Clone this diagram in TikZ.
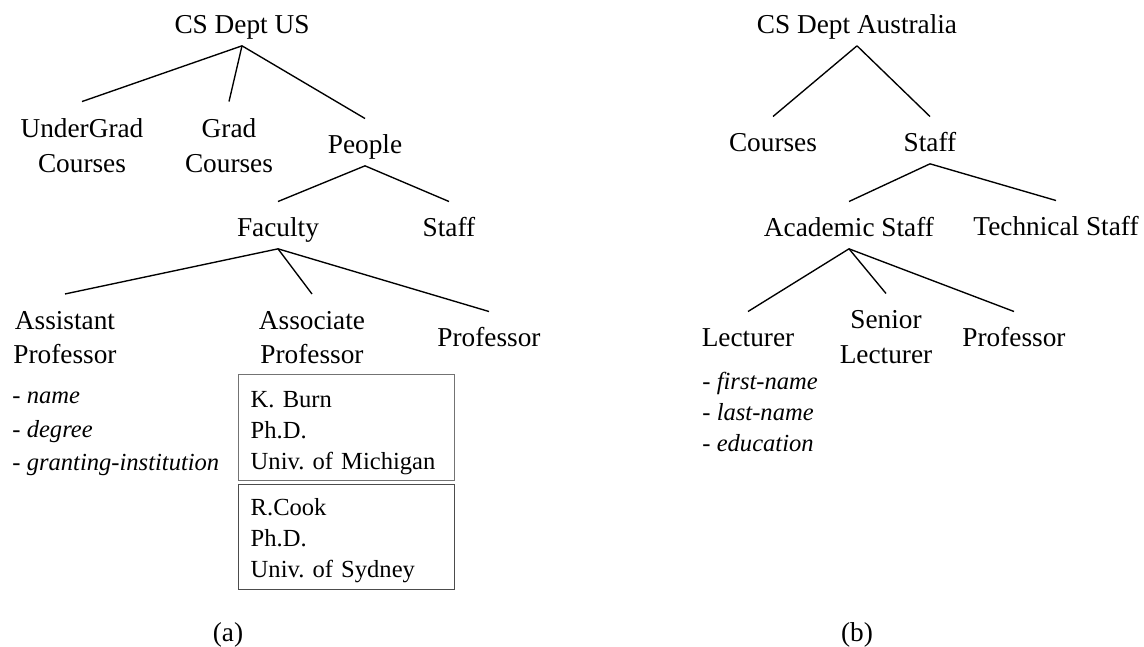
\documentclass[tikz,border=0pt]{standalone}
\usepackage{fontspec}
\setmainfont{Liberation Serif}
\begin{document}
\begin{tikzpicture}[x=0.4396pt, y=-0.4396pt]
        % Styles des noeuds
        \tikzstyle{cat} = [inner sep=0pt, text height=15.4pt, text depth=5pt, anchor=base, font=\fontsize{12}{15.2}\selectfont]
        \tikzstyle{cattwo} = [inner sep=7.3pt, align=center, font=\fontsize{12}{15.2}\selectfont]
        \tikzstyle{attr} = [inner sep=0pt, align=left, anchor=west, font=\fontsize{10.8}{14.7}\selectfont]
        \tikzstyle{entry} = [draw=black!70, line width=0.6pt, inner xsep=5.3pt, inner ysep=0pt, text width=84.4pt, align=left, anchor=north west, font=\fontsize{10.8}{13.6}\selectfont]
        \tikzstyle{branch} = [line width=0.6pt]

        \useasboundingbox (0,0) rectangle (1144,647);

        % Arbre (a)
        \node (usdept) [cat] at (242,34) {CS Dept US};
        \node (undergrad) [cattwo] at (82,145.5) {UnderGrad\\Courses};
        \node (grad) [cattwo] at (229,145.5) {Grad\\Courses};
        \node (people) [cat] at (365,154) {People};
        \node (faculty) [cat] at (278,237) {Faculty};
        \node (usstaff) [cat] at (449,237) {Staff};
        \node (assistant) [cattwo] at (65,337.5) {Assistant\\Professor};
        \node (associate) [cattwo] at (312,337.5) {Associate\\Professor};
        \node (usprof) [cat] at (489,347) {Professor};
        \node (assistattr) [attr] at (12,434) {- \textit{name}\\- \textit{degree}\\- \textit{granting-institution}};
        \node (burn) [entry, draw=black!55, text height=14.5pt, text depth=32.1pt] at (238,374) {K. Burn\\Ph.D.\\Univ.\ of Michigan};
        \node (cook) [entry, text height=13.6pt, text depth=32.5pt] at (238,484) {R.Cook\\Ph.D.\\Univ.\ of Sydney};
        \node (capa) [cat] at (228,641) {(a)};

        % Arbre (b)
        \node (audept) [cat] at (857,34) {CS Dept Australia};
        \node (courses) [cat] at (773,152) {Courses};
        \node (austaff) [cat] at (930,152) {Staff};
        \node (academic) [cat] at (849,237) {Academic Staff};
        \node (technical) [cat] at (1056,236) {Technical Staff};
        \node (lecturer) [cat] at (748,347) {Lecturer};
        \node (senior) [cattwo] at (886,337) {Senior\\Lecturer};
        \node (auprof) [cat] at (1014,347) {Professor};
        \node (lectattr) [attr, font=\fontsize{10.8}{13.6}\selectfont] at (702,412) {- \textit{first-name}\\- \textit{last-name}\\- \textit{education}};
        \node (capb) [cat] at (857,641) {(b)};

        % Branches
        \draw [branch] (usdept.south) -- (undergrad.north);
        \draw [branch] (usdept.south) -- (grad.north);
        \draw [branch] (usdept.south) -- (people.north);
        \draw [branch] (people.south) -- (faculty.north);
        \draw [branch] (people.south) -- (usstaff.north);
        \draw [branch] (faculty.south) -- (assistant.north);
        \draw [branch] (faculty.south) -- (associate.north);
        \draw [branch] (faculty.south) -- (usprof.north);
        \draw [branch] (audept.south) -- (courses.north);
        \draw [branch] (audept.south) -- (austaff.north);
        \draw [branch] (austaff.south) -- (academic.north);
        \draw [branch] (austaff.south) -- (technical.north);
        \draw [branch] (academic.south) -- (lecturer.north);
        \draw [branch] (academic.south) -- (senior.north);
        \draw [branch] (academic.south) -- (auprof.north);
\end{tikzpicture}
\end{document}
